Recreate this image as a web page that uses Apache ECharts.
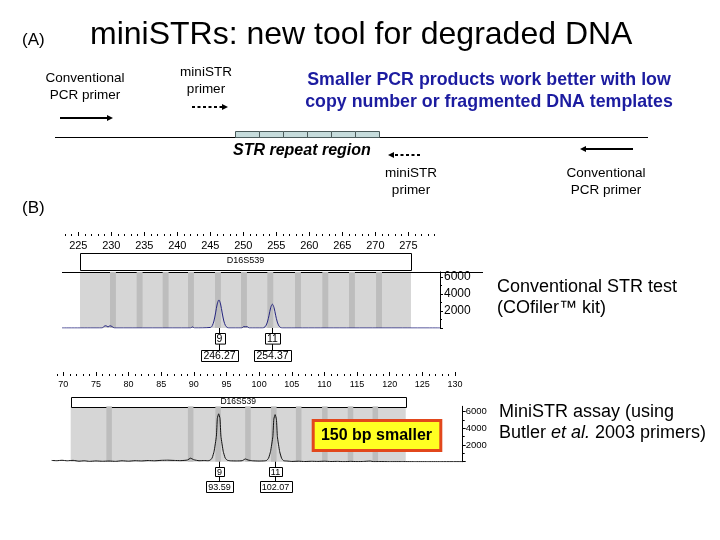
<!DOCTYPE html>
<html><head><meta charset="utf-8">
<script src="https://cdn.jsdelivr.net/npm/echarts@6/dist/echarts.min.js"></script>
<style>html,body{margin:0;padding:0;background:#fff}#c{width:720px;height:540px}</style>
</head><body><div id="c"></div>
<script>
// ---------------- data ----------------
const topTickLabels = [225,230,235,240,245,250,255,260,265,270,275];
const bottomTickLabels = [70,75,80,85,90,95,100,105,110,115,120,125,130];
const rfuTickLabels = [2000,4000,6000];
const rfuMajorTicks = [0,2000,4000,6000];
const rfuMinorTicks = [1000,3000,5000];
const markerName = 'D16S539';
const topRegion = [225.26, 275.4];
const bottomRegion = [71.13, 122.46];
const topBins = [230.25,234.29,238.23,242.07,246.16,250.1,254.09,258.28,262.42,266.46,270.56];
const bottomBins = [77.02,89.51,93.72,98.29,102.25,106.06,110.07,114.0,117.8];
const topAlleleCalls = ['9','11'];
const topAlleleSizes = ['246.27','254.37'];
const topAllelePeaks = [246.3,254.4];
const bottomAlleleCalls = ['9','11'];
const bottomAlleleSizes = ['93.59','102.07'];
const bottomAllelePeaks = [93.8,102.45];
const topTrace = [
  [222.53,0],[228.6,0],[228.9,200],[229.2,260],[229.5,120],[229.8,260],[230.1,180],[230.5,0],
  [242.0,0],[242.3,130],[242.6,0],
  [245.05,70],[245.3,280],[245.55,820],[245.8,1770],[246.05,2830],[246.3,3300],[246.55,2830],[246.8,1770],[247.05,820],[247.3,280],[247.55,70],[247.8,0],
  [249.8,0],[250.0,150],[250.6,150],[250.9,0],
  [252.9,0],[253.15,60],[253.4,240],[253.65,700],[253.9,1500],[254.15,2400],[254.4,2800],[254.65,2400],[254.9,1500],[255.15,700],[255.4,240],[255.65,60],[255.9,0],
  [279.8,0]
];
const bottomTrace = [
  [68.22,150],[69.0,120],[69.8,170],[70.6,110],[71.5,160],[72.4,60],[73.2,110],[74.0,40],[75.0,90],[76.0,50],[77.0,80],[78.0,40],[79.0,110],[80.0,60],[81.0,120],[82.0,90],[83.0,140],[84.0,110],[85.0,160],[86.0,180],[87.0,150],[88.0,130],[89.0,200],[89.5,420],[90.0,230],[90.8,120],[91.6,140],[92.2,120],
  [92.5,180],[92.8,450],[93.1,1250],[93.45,3050],[93.6,5200],[93.8,5750],[94.0,5200],[94.15,3050],[94.5,1250],[94.8,450],[95.1,180],
  [95.6,110],[96.5,90],[97.4,120],[97.9,330],[98.3,200],[99.0,110],[100.0,80],[100.8,100],
  [101.15,150],[101.45,430],[101.75,1230],[102.1,3000],[102.25,5100],[102.45,5650],[102.65,5100],[102.8,3000],[103.15,1200],[103.45,400],[103.75,120],
  [104.3,80],[105.0,30],[106.0,60],[107.0,20],[108.0,50],[109.0,30],[110.0,60],[111.0,20],[112.0,40],[113.0,0],[114.0,40],[115.0,10],[116.0,30],[117.0,80],[117.6,0],[118.5,20],[120,0],[122,10],[124,0],[126,0],[128,0],[131.19,0]
];

// ---------------- helpers ----------------
const FONT = '"Liberation Sans", Arial, sans-serif';
const topRulerMinor = []; for (let v = 223; v <= 279; v++) topRulerMinor.push(v);
const bottomRulerMinor = []; for (let v = 69; v <= 130; v++) bottomRulerMinor.push(v);

function regionItem(ymax, boxTop, boxBottom, fontSize, lineExtra) {
  return function (params, api) {
    const p0 = api.coord([api.value(0), ymax]);
    const p1 = api.coord([api.value(1), 0]);
    const cs = params.coordSys;
    const ch = [
      {type:'rect', shape:{x:p0[0], y:p0[1], width:p1[0]-p0[0], height:p1[1]-p0[1]}, style:{fill:'#d6d6d6'}},
      {type:'rect', shape:{x:Math.round(p0[0])+0.5, y:Math.round(p0[1]+boxTop)+0.5, width:Math.round(p1[0]-p0[0]), height:Math.round(boxBottom-boxTop)}, style:{fill:'#fff', stroke:'#000', lineWidth:1}},
      {type:'text', style:{text:markerName, x:(p0[0]+p1[0])/2, y:p0[1]+(boxTop+boxBottom)/2, align:'center', verticalAlign:'middle', font:fontSize+'px '+FONT, fill:'#000'}}
    ];
    if (lineExtra) {
      const y = Math.round(p0[1]) + 0.5;
      ch.push({type:'line', shape:{x1:cs.x, y1:y, x2:cs.x+cs.width+lineExtra, y2:y}, style:{stroke:'#000', lineWidth:1}});
    }
    return {type:'group', children:ch};
  };
}
function binItem(ymax, w) {
  return function (params, api) {
    const p0 = api.coord([api.value(0) - w/2, ymax]);
    const p1 = api.coord([api.value(0) + w/2, 0]);
    return {type:'rect', shape:{x:p0[0], y:p0[1], width:p1[0]-p0[0], height:p1[1]-p0[1]}, style:{fill:'#bdbdbd'}};
  };
}
function alleleItem(calls, sizes, o) {
  return function (params, api) {
    const i = params.dataIndex;
    const p = api.coord([api.value(0), 0]);
    const x = Math.round(p[0]) + 0.5, y0 = p[1];
    const w1 = Math.round(calls[i].length*o.cw + o.pad), w2 = Math.round(sizes[i].length*o.cw + o.pad);
    return {type:'group', children:[
      {type:'line', shape:{x1:x, y1:y0, x2:x, y2:y0+o.b2}, style:{stroke:'#000', lineWidth:1}},
      {type:'rect', shape:{x:Math.round(x-w1/2)+0.5, y:Math.round(y0+o.b1)+0.5, width:w1, height:o.h1}, style:{fill:'#fff', stroke:'#000', lineWidth:1}},
      {type:'text', style:{text:calls[i], x:x, y:y0+o.b1+o.h1/2+1, align:'center', verticalAlign:'middle', font:o.fs+'px '+FONT, fill:'#000'}},
      {type:'rect', shape:{x:Math.round(x-w2/2)+0.5, y:Math.round(y0+o.b2)+0.5, width:w2, height:o.h2}, style:{fill:'#fff', stroke:'#000', lineWidth:1}},
      {type:'text', style:{text:sizes[i], x:x, y:y0+o.b2+o.h2/2+1, align:'center', verticalAlign:'middle', font:o.fs+'px '+FONT, fill:'#000'}}
    ]};
  };
}
const plain = v => String(v);
function xAxes(grid, min, max, offset, labels, minor, fs) {
  return [
    {gridIndex:grid, type:'value', min:min, max:max, position:'top', offset:offset,
     axisLine:{show:false, onZero:false}, splitLine:{show:false},
     axisTick:{show:true, customValues:labels, length:4, inside:false, lineStyle:{color:'#000', width:1}},
     axisLabel:{show:true, customValues:labels, inside:true, margin:4, fontSize:fs, fontFamily:FONT, color:'#000', formatter:plain}},
    {gridIndex:grid, type:'value', min:min, max:max, position:'top', offset:offset,
     axisLine:{show:false, onZero:false}, splitLine:{show:false},
     axisTick:{show:true, customValues:minor, length:2, inside:false, lineStyle:{color:'#000', width:1}},
     axisLabel:{show:false}}
  ];
}
function yAxes(grid, max, fs, margin) {
  return [
    {gridIndex:grid, type:'value', min:0, max:max, position:'right',
     axisLine:{show:true, onZero:false, lineStyle:{color:'#000', width:1}}, splitLine:{show:false},
     axisTick:{show:true, customValues:rfuMajorTicks, length:3, inside:false, lineStyle:{color:'#000'}},
     axisLabel:{show:true, customValues:rfuTickLabels, margin:margin, fontSize:fs, fontFamily:FONT, color:'#000', formatter:plain}},
    {gridIndex:grid, type:'value', min:0, max:max, position:'right',
     axisLine:{show:false, onZero:false}, splitLine:{show:false},
     axisTick:{show:true, customValues:rfuMinorTicks, length:2, inside:false, lineStyle:{color:'#000'}},
     axisLabel:{show:false}}
  ];
}
function arrow(x1, x2, y, dashed) {
  const dir = x2 > x1 ? 1 : -1;
  const hl = 6, hw = 3;
  return [
    {type:'line', z:100, shape:{x1:x1, y1:y, x2:x2 - dir*hl*0.6, y2:y}, style:{stroke:'#000', lineWidth:2, lineDash: dashed ? [3,2.5] : null}},
    {type:'polygon', z:100, shape:{points:[[x2,y],[x2-dir*hl,y-hw],[x2-dir*hl,y+hw]]}, style:{fill:'#000'}}
  ];
}
function txt(text, x, y, size, opts) {
  opts = opts || {};
  return {type:'text', z:101, x:x, y:y, style:{text:text, font:(opts.style||'')+' '+(opts.weight||'normal')+' '+size+'px '+FONT,
    fill:opts.color||'#000', textAlign:opts.align||'left', textVerticalAlign:'middle', align:opts.align||'left', verticalAlign:'middle', lineHeight:opts.lh}};
}

const TOPMAX = 6600, BOTMAX = 6650;
const chart = echarts.init(document.getElementById('c'), null, {renderer:'canvas'});

const graphic = [].concat(
  [
    txt('(A)', 22, 40, 17),
    txt('miniSTRs: new tool for degraded DNA', 90, 35, 32),
    txt('Conventional\nPCR primer', 85, 87, 13.5, {align:'center', lh:17}),
    txt('miniSTR\nprimer', 206, 81, 13.5, {align:'center', lh:17}),
    txt('Smaller PCR products work better with low\ncopy number or fragmented DNA templates', 489, 91, 17.8, {align:'center', weight:'bold', color:'#1c1ca0', lh:22}),
    {type:'line', z:100, shape:{x1:55, y1:137.5, x2:648, y2:137.5}, style:{stroke:'#000', lineWidth:1}},
    txt('STR repeat region', 233, 151, 16, {weight:'bold', style:'italic'}),
    txt('miniSTR\nprimer', 411, 182, 13.5, {align:'center', lh:17}),
    txt('Conventional\nPCR primer', 606, 182, 13.5, {align:'center', lh:17}),
    txt('(B)', 22, 208, 17),
    txt('Conventional STR test\n(COfiler\u2122 kit)', 497, 297.5, 18, {lh:21}),
    {type:'text', z:101, x:499, y:401, style:{rich:{n:{font:'18px '+FONT, fill:'#000'}, i:{font:'italic 18px '+FONT, fill:'#000'}},
      text:'{n|MiniSTR assay (using}\n{n|Butler }{i|et al.}{n| 2003 primers)}', lineHeight:21.5}},
    {type:'rect', z:100, shape:{x:313.2, y:420.5, width:127.6, height:30}, style:{fill:'#ffff22', stroke:'#e2471c', lineWidth:3}},
    txt('150 bp smaller', 376.5, 435.5, 16, {align:'center', weight:'bold'})
  ],
  arrow(60, 113, 118, false),
  arrow(192, 228, 107, true),
  arrow(420, 388, 155, true),
  arrow(633, 580, 149, false)
);
// STR repeat cells
const repeatCount = 6;
for (let k = 0; k < repeatCount; k++) {
  graphic.push({type:'rect', z:100, shape:{x:235.5 + k*24, y:131.5, width:24, height:6}, style:{fill:'#c6dcdc', stroke:'#4a5a5a', lineWidth:1}});
}

chart.setOption({
  animation:false,
  backgroundColor:'#fff',
  grid:[
    {left:62, top:271.9, width:378, height:56.1, outerBoundsMode:'none', containLabel:false},
    {left:51.7, top:406.3, width:411, height:55.4, outerBoundsMode:'none', containLabel:false}
  ],
  xAxis: [].concat(
    xAxes(0, 222.53, 279.8, 35.9, topTickLabels, topRulerMinor, 11),
    xAxes(1, 68.22, 131.19, 30.3, bottomTickLabels, bottomRulerMinor, 9)
  ),
  yAxis: [].concat(yAxes(0, TOPMAX, 12, 4), yAxes(1, BOTMAX, 9.5, 3)),
  series:[
    {type:'custom', xAxisIndex:0, yAxisIndex:0, z:1, clip:false, data:[topRegion], renderItem:regionItem(TOPMAX, -19.2, -2.6, 9, 43)},
    {type:'custom', xAxisIndex:0, yAxisIndex:0, z:2, data:topBins.map(v => [v]), renderItem:binItem(TOPMAX, 0.9)},
    {type:'line', xAxisIndex:0, yAxisIndex:0, z:3, data:topTrace, showSymbol:false, symbol:'none', smooth:0.3,
     lineStyle:{color:'#25257f', width:1}},
    {type:'custom', xAxisIndex:0, yAxisIndex:0, z:4, clip:false, data:topAllelePeaks.map(v => [v, 0]),
     renderItem:alleleItem(topAlleleCalls, topAlleleSizes, {cw:5.5, pad:4, b1:4.7, h1:10.6, b2:22, h2:11, fs:10.5})},

    {type:'custom', xAxisIndex:2, yAxisIndex:2, z:1, clip:false, data:[bottomRegion], renderItem:regionItem(BOTMAX, -9.6, 0, 8.5, 0)},
    {type:'custom', xAxisIndex:2, yAxisIndex:2, z:2, data:bottomBins.map(v => [v]), renderItem:binItem(BOTMAX, 0.85)},
    {type:'line', xAxisIndex:2, yAxisIndex:2, z:3, data:bottomTrace, showSymbol:false, symbol:'none', smooth:0.15,
     lineStyle:{color:'#111', width:1}},
    {type:'custom', xAxisIndex:2, yAxisIndex:2, z:4, clip:false, data:bottomAllelePeaks.map(v => [v, 0]),
     renderItem:alleleItem(bottomAlleleCalls, bottomAlleleSizes, {cw:4.6, pad:4, b1:5.3, h1:9, b2:19.3, h2:11, fs:9})}
  ],
  graphic:graphic
});
</script></body></html>
